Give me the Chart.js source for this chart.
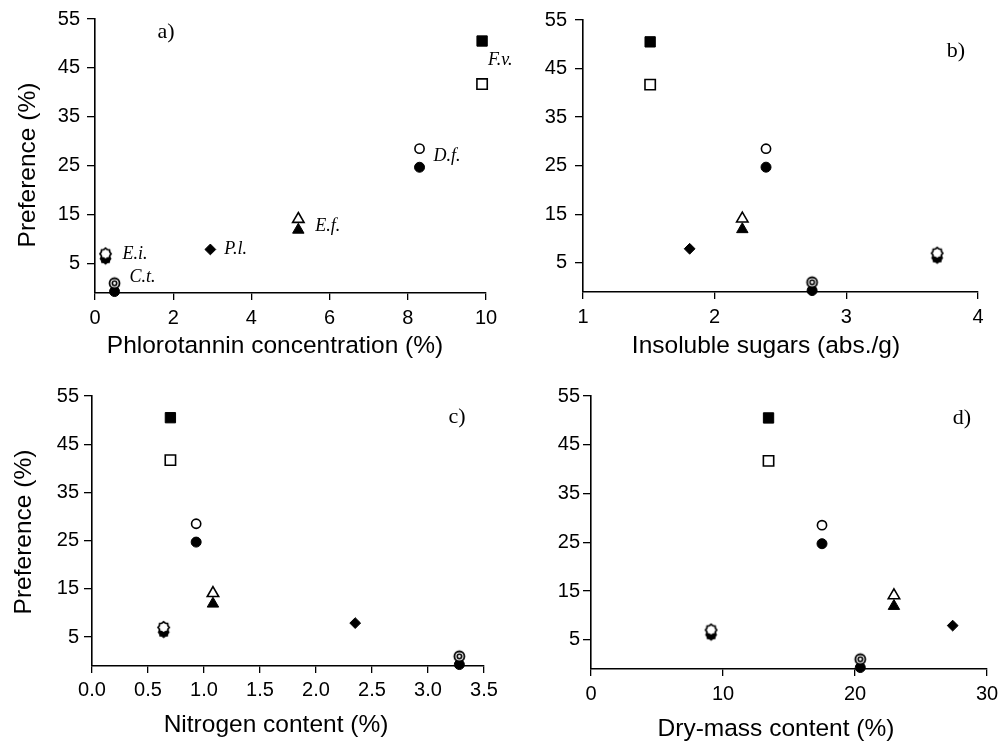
<!DOCTYPE html>
<html><head><meta charset="utf-8">
<script src="https://cdn.jsdelivr.net/npm/chart.js@4.4.1/dist/chart.umd.min.js"></script>
<style>
html,body{margin:0;padding:0;background:#fff;}
#wrap{position:relative;width:1008px;height:744px;background:#fff;overflow:hidden;}
.pane{position:absolute;height:372px;}
canvas{display:block;}
</style></head><body>
<div id="wrap">
  <div class="pane" style="left:0;top:0;width:540px"><canvas id="ca" width="540" height="372"></canvas></div>
  <div class="pane" style="left:504px;top:0;width:504px"><canvas id="cb" width="504" height="372"></canvas></div>
  <div class="pane" style="left:0;top:372px;width:504px"><canvas id="cc" width="504" height="372"></canvas></div>
  <div class="pane" style="left:504px;top:372px;width:504px"><canvas id="cd" width="504" height="372"></canvas></div>
</div>
<script>
// ---------------- data ----------------
const species = ['F.v.', 'D.f.', 'E.f.', 'P.l.', 'E.i.', 'C.t.'];
const prefOpen = [41.7, 28.5, 14.1, null, 7.0, 1.0];
const prefFilled = [50.5, 24.7, 11.9, 7.9, 6.0, -0.7];
const phlorotannin = [9.9, 8.3, 5.2, 2.95, 0.27, 0.5];
const insolubleSugars = [1.51, 2.39, 2.21, 1.81, 3.69, 2.74];
const nitrogen = [0.70, 0.93, 1.08, 2.35, 0.64, 3.28];
const dryMass = [13.45, 17.5, 22.95, 27.4, 9.1, 20.4];
const yTicks = [5, 15, 25, 35, 45, 55];
const xTicksA = [0, 2, 4, 6, 8, 10];
const xTicksB = [1, 2, 3, 4];
const xTicksC = [0, 0.5, 1, 1.5, 2, 2.5, 3, 3.5];
const xTickLabelsC = ['0.0', '0.5', '1.0', '1.5', '2.0', '2.5', '3.0', '3.5'];
const xTicksD = [0, 10, 20, 30];

// ---------------- custom marker images ----------------
function makeCanvas(draw) {
  const c = document.createElement('canvas');
  c.width = 17; c.height = 17;
  const g = c.getContext('2d');
  draw(g);
  return c;
}
function starPath(g, n, ro, ri) {
  g.beginPath();
  for (let i = 0; i < 2 * n; i++) {
    const r = i % 2 === 0 ? ro : ri;
    const a = -Math.PI / 2 + i * Math.PI / n;
    const px = 8.5 + r * Math.cos(a), py = 8.5 + r * Math.sin(a);
    if (i === 0) g.moveTo(px, py); else g.lineTo(px, py);
  }
  g.closePath();
}
const eiOpen = makeCanvas(g => { starPath(g, 8, 5.6, 4.6); g.fillStyle = '#fff'; g.fill(); g.lineWidth = 1.7; g.strokeStyle = '#000'; g.stroke(); });
const eiFilled = makeCanvas(g => { starPath(g, 8, 6.0, 5.0); g.fillStyle = '#000'; g.fill(); });
const ctOpen = makeCanvas(g => {
  g.beginPath(); g.arc(8.5, 8.5, 5.0, 0, Math.PI * 2); g.fillStyle = '#fff'; g.fill();
  g.lineWidth = 1.8; g.strokeStyle = '#000'; g.stroke();
  g.beginPath(); g.arc(8.5, 8.5, 2.2, 0, Math.PI * 2); g.lineWidth = 1.6; g.stroke();
});

const openStyle = ['rect', 'circle', 'triangle', 'rectRot', eiOpen, ctOpen];
const filledStyle = ['rect', 'circle', 'triangle', 'rectRot', eiFilled, 'circle'];
const openRadius = [7.3, 4.6, 6.6, 5.4, 5, 5];
const filledRadius = [7.3, 5.0, 6.6, 5.4, 5, 5.0];

function pts(xs, ys) {
  const out = [];
  xs.forEach((x, i) => { if (ys[i] !== null) out.push({ x: x, y: ys[i], k: i }); });
  return out;
}

// ---------------- text plugin ----------------
const textPlugin = {
  id: 'panelText',
  afterDraw(chart, args, opts) {
    const ctx = chart.ctx;
    ctx.save();
    ctx.fillStyle = '#000';
    ctx.textBaseline = 'middle';
    (opts.items || []).forEach(it => {
      ctx.save();
      ctx.font = it.font;
      ctx.textAlign = it.align || 'center';
      ctx.translate(it.x, it.y);
      if (it.rot) ctx.rotate(it.rot);
      ctx.fillText(it.text, 0, 0);
      ctx.restore();
    });
    if (opts.speciesLabels) {
      const xs = opts.speciesLabels.xs;
      const offs = opts.speciesLabels.offsets;
      ctx.font = 'italic 18px "Liberation Serif", "DejaVu Serif", serif';
      ctx.textAlign = 'left';
      species.forEach((s, i) => {
        const px = chart.scales.x.getPixelForValue(xs[i]) + offs[i][0];
        const py = chart.scales.y.getPixelForValue(prefFilled[i]) + offs[i][1];
        ctx.fillText(s, px, py);
      });
    }
    ctx.restore();
  }
};

const SANS = '"Liberation Sans", Arial, sans-serif';
const SERIF = '"Liberation Serif", "Times New Roman", serif';

function makePanel(id, W, xs, xMin, xMax, xTicks, xLabels, g, items, speciesLabels) {
  const H = 372;
  const dsOpen = pts(xs, prefOpen);
  const dsFilled = pts(xs, prefFilled);
  new Chart(document.getElementById(id), {
    type: 'scatter',
    data: {
      datasets: [
        {
          data: dsOpen,
          pointStyle: dsOpen.map(p => openStyle[p.k]),
          pointRadius: dsOpen.map(p => openRadius[p.k]),
          pointBackgroundColor: '#fff',
          pointBorderColor: '#000',
          pointBorderWidth: 1.6,
          clip: false
        },
        {
          data: dsFilled,
          pointStyle: dsFilled.map(p => filledStyle[p.k]),
          pointRadius: dsFilled.map(p => filledRadius[p.k]),
          pointBackgroundColor: '#000',
          pointBorderColor: '#000',
          pointBorderWidth: 1,
          clip: false
        }
      ]
    },
    options: {
      responsive: false,
      animation: false,
      devicePixelRatio: 1,
      layout: { padding: { top: g.top, right: W - g.right, left: 0, bottom: 0 } },
      plugins: {
        legend: { display: false },
        tooltip: { enabled: false },
        panelText: { items: items, speciesLabels: speciesLabels }
      },
      scales: {
        x: {
          type: 'linear', min: xMin, max: xMax,
          afterBuildTicks: s => { s.ticks = xTicks.map(v => ({ value: v })); },
          afterFit: s => { s.height = H - g.bottom; },
          ticks: {
            callback: (v, i) => xLabels ? xLabels[i] : String(v),
            font: { family: SANS, size: 20 }, color: '#000',
            padding: g.xPad, maxRotation: 0, autoSkip: false
          },
          grid: { display: true, drawOnChartArea: false, drawTicks: true, tickLength: 7, color: '#000', lineWidth: 1.3 },
          border: { display: true, color: '#000', width: 1.6 }
        },
        y: {
          type: 'linear', min: -1, max: 55,
          afterBuildTicks: s => { s.ticks = yTicks.map(v => ({ value: v })); },
          afterFit: s => { s.width = g.left; },
          ticks: {
            font: { family: SANS, size: 20 }, color: '#000',
            padding: g.yPad, autoSkip: false
          },
          grid: { display: true, drawOnChartArea: false, drawTicks: true, tickLength: 8, color: '#000', lineWidth: 1.3 },
          border: { display: true, color: '#000', width: 1.6 }
        }
      }
    },
    plugins: [textPlugin]
  });
}

const TITLE = '24.5px ' + SANS;
const LETTER = '22px ' + SERIF;

makePanel('ca', 540, phlorotannin, 0, 10, xTicksA, null,
  { left: 95, top: 16, right: 486, bottom: 293, yPad: 7, xPad: 6 },
  [
    { text: 'Preference (%)', x: 28, y: 165, rot: -Math.PI / 2, font: TITLE },
    { text: 'Phlorotannin concentration (%)', x: 275, y: 346, font: TITLE },
    { text: 'a)', x: 166, y: 32, font: LETTER }
  ],
  { xs: phlorotannin, offsets: [[6, 19], [14, -11], [17, -4], [14, 0], [17, -4], [15, -14]] }
);
makePanel('cb', 504, insolubleSugars, 1, 4, xTicksB, null,
  { left: 79, top: 16, right: 474, bottom: 292, yPad: 8, xPad: 6 },
  [
    { text: 'Insoluble sugars (abs./g)', x: 262, y: 346, font: TITLE },
    { text: 'b)', x: 452, y: 51, font: LETTER }
  ], null
);
makePanel('cc', 504, nitrogen, 0, 3.5, xTicksC, xTickLabelsC,
  { left: 92, top: 24, right: 484, bottom: 294, yPad: 5, xPad: 5 },
  [
    { text: 'Preference (%)', x: 24, y: 160, rot: -Math.PI / 2, font: TITLE },
    { text: 'Nitrogen content (%)', x: 276, y: 353, font: TITLE },
    { text: 'c)', x: 457, y: 45, font: LETTER }
  ], null
);
makePanel('cd', 504, dryMass, 0, 30, xTicksD, null,
  { left: 87, top: 24, right: 483, bottom: 297, yPad: 3, xPad: 6 },
  [
    { text: 'Dry-mass content (%)', x: 272, y: 357, font: TITLE },
    { text: 'd)', x: 458, y: 46, font: LETTER }
  ], null
);
</script>
</body></html>
